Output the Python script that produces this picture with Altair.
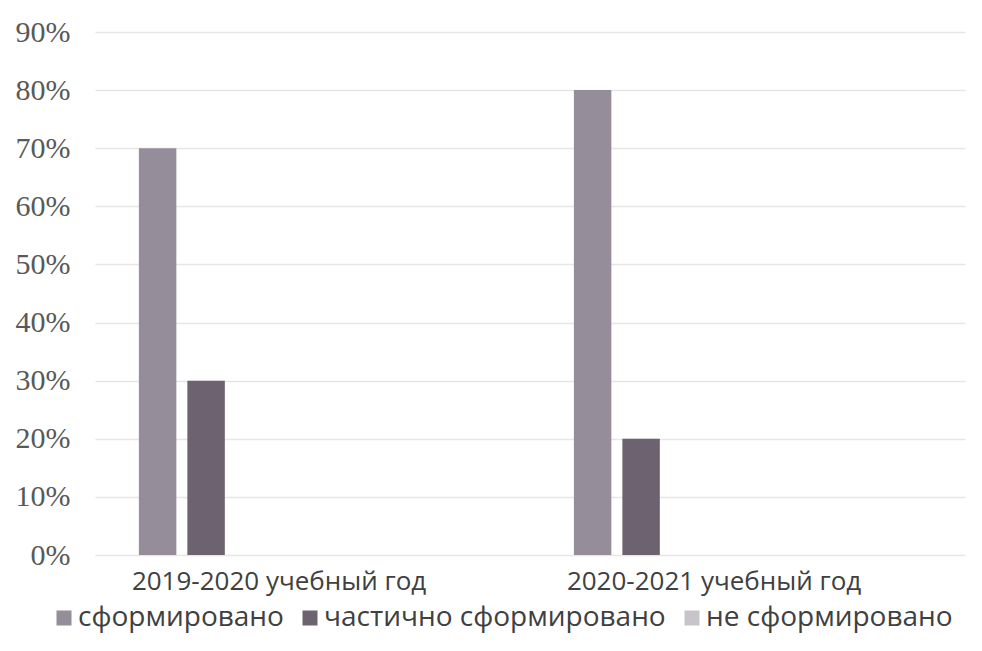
import altair as alt
import pandas as pd

years = ["2019-2020 учебный год", "2020-2021 учебный год"]
series = ["сформировано", "частично сформировано", "не сформировано"]
formed = [0.70, 0.80]
partly = [0.30, 0.20]
not_formed = [0.0, 0.0]
colors = ["#958d99", "#6d6270", "#c9c4cb"]
y_ticks = [0.0, 0.1, 0.2, 0.3, 0.4, 0.5, 0.6, 0.7, 0.8, 0.9]

rows = []
for vals, s in zip([formed, partly, not_formed], series):
    for yr, v in zip(years, vals):
        rows.append({"year": yr, "series": s, "value": v})
df = pd.DataFrame(rows)

chart = alt.Chart(df).mark_bar().encode(
    x=alt.X("year:N", sort=years, title=None,
            scale=alt.Scale(paddingInner=0.691, paddingOuter=0.3455, align=0.146),
            axis=alt.Axis(labelAngle=0, labelFont="Open Sans", labelFontSize=26,
                          labelColor="#404040", labelPadding=13, labelOffset=73,
                          labelLimit=600, domain=False, ticks=False)),
    xOffset=alt.XOffset("series:N", sort=series,
                        scale=alt.Scale(domain=series, paddingInner=0.227,
                                        paddingOuter=0)),
    y=alt.Y("value:Q", title=None,
            scale=alt.Scale(domain=[0, 0.9], nice=False),
            axis=alt.Axis(values=y_ticks, format=".0%", labelFont="Liberation Serif",
                          labelFontSize=30, labelColor="#595959", labelPadding=25,
                          domain=False, ticks=False, gridColor="#e6e6e6",
                          gridWidth=1.5)),
    color=alt.Color("series:N", sort=series, title=None,
                    scale=alt.Scale(domain=series, range=colors),
                    legend=alt.Legend(orient="none", direction="horizontal",
                                      legendX=-45, legendY=572,
                                      symbolType="square", symbolSize=225,
                                      symbolStrokeWidth=0, labelLimit=600,
                                      labelFont="Open Sans", labelFontSize=28,
                                      labelColor="#404040", labelOffset=0,
                                      columnPadding=12)),
).properties(
    width=870, height=523,
    autosize=alt.AutoSizeParams(type="none"),
    padding={"left": 87, "top": 24, "right": 5, "bottom": 88},
).configure(background="white").configure_view(stroke=None)

chart.save("out.html", embed_options={"renderer": "svg", "actions": False})
